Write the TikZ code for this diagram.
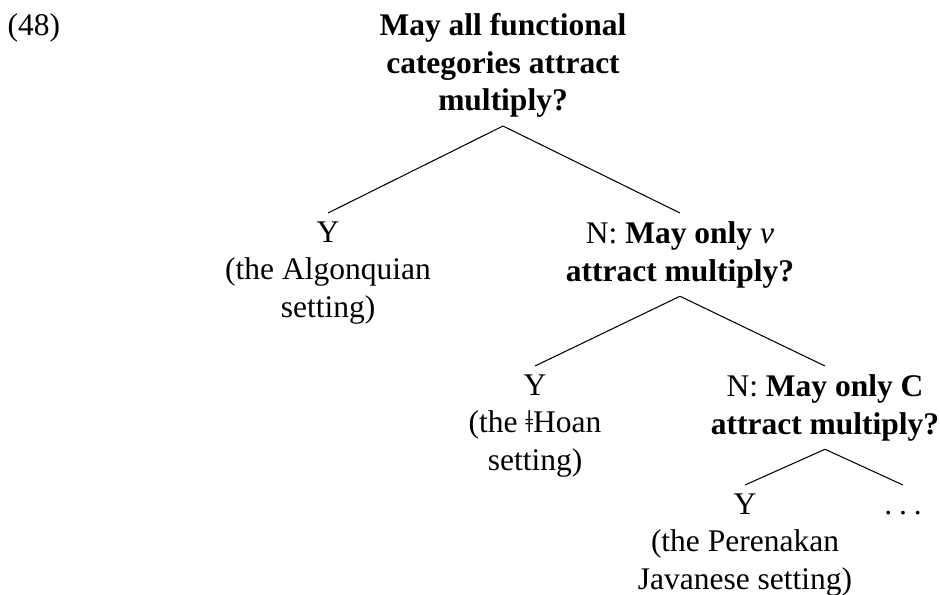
\documentclass[tikz,border=0pt]{standalone}
\usepackage{fontspec}
\setmainfont{Liberation Serif}
\begin{document}
\begin{tikzpicture}[x=0.381pt,y=-0.381pt,
  every node/.style={align=center,inner xsep=0pt,inner ysep=3pt,
    font=\fontsize{12}{14.4}\selectfont},
  query/.style={font=\fontsize{12}{14.4}\selectfont\bfseries}]
  \useasboundingbox (0,0) rectangle (940,594);
  \node[anchor=base west] (num) at (7,35) {(48)};
  % root question
  \node[query,anchor=south] (root) at (503,126) {May all functional\\categories attract\\multiply?};
  \node[anchor=north] (yA) at (328,213) {Y\\(the Algonquian\\setting)};
  \node[anchor=north] (nA) at (680,213) {N: \textbf{May only} \textit{v}\\\textbf{attract multiply?}};
  % second split
  \node[anchor=north] (yB) at (535,366) {Y\\(the ǂHoan\\setting)};
  \node[anchor=north] (nB) at (825,366) {N: \textbf{May only C}\\\textbf{attract multiply?}};
  % third split
  \node[anchor=north] (yC) at (745,485) {Y\\(the Perenakan\\Javanese setting)};
  \node[anchor=north] (more) at (903,485) {\vphantom{Y}.\kern0.22em.\kern0.22em.};
  \draw (root.south) -- (yA.north);
  \draw (root.south) -- (nA.north);
  \draw (nA.south) -- (yB.north);
  \draw (nA.south) -- (nB.north);
  \draw (nB.south) -- (yC.north);
  \draw (nB.south) -- (more.north);
\end{tikzpicture}
\end{document}
